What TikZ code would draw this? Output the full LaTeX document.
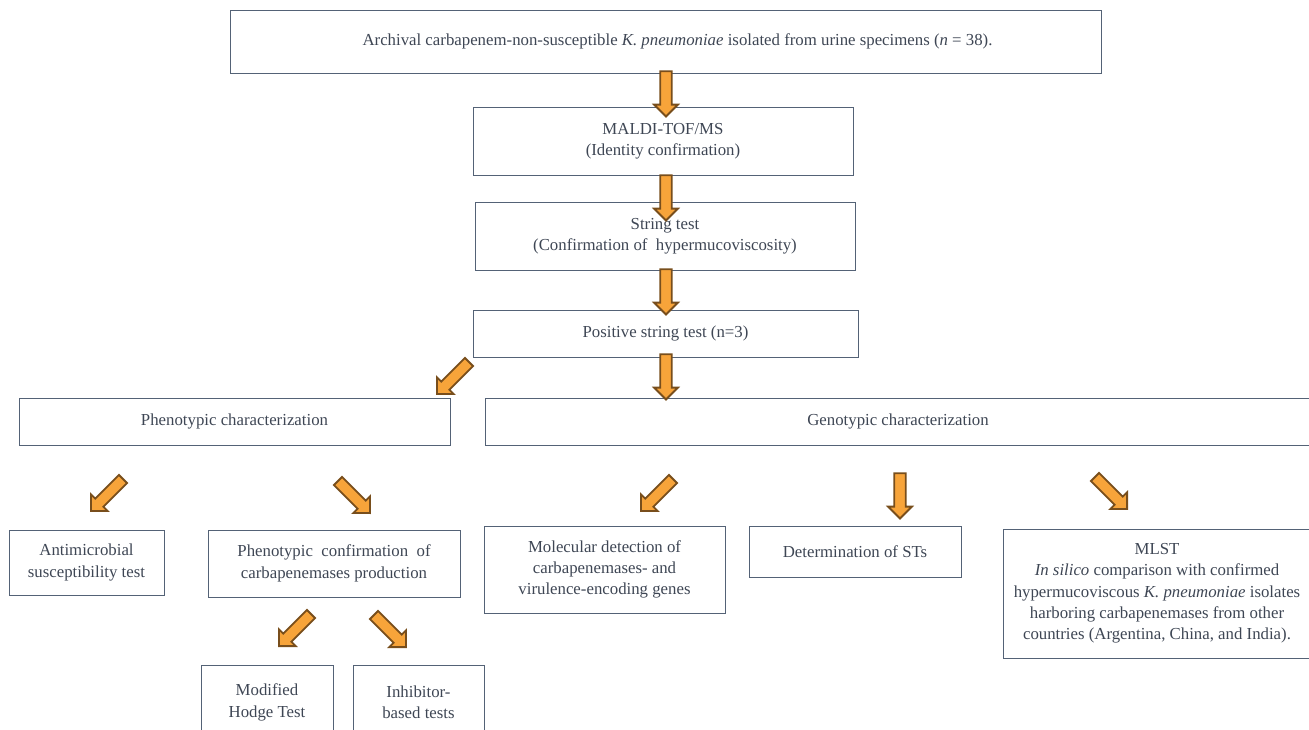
\documentclass[tikz,border=0pt]{standalone}
\usepackage{fontspec}
\setmainfont{Liberation Serif}
\usetikzlibrary{shapes.arrows}
\definecolor{boxline}{RGB}{84,98,118}
\definecolor{txtgray}{RGB}{62,70,84}
\definecolor{arrfill}{RGB}{247,164,58}
\definecolor{arrline}{RGB}{120,78,28}

\begin{document}
\begin{tikzpicture}[x=0.75pt, y=-0.75pt,
  box/.style={draw=boxline, line width=0.75pt, align=center, text=txtgray,
    font=\fontsize{12.6}{16}\selectfont, inner sep=0pt},
  fatarrow/.style={single arrow, draw=arrline, fill=arrfill, line width=1.4pt,
    inner xsep=0pt, inner ysep=3.6pt, minimum height=34pt,
    single arrow head extend=4.6pt}]
  \useasboundingbox (0,0) rectangle (1309,729);
  \clip (0,0) rectangle (1309,729);
  % boxes
  \node[box, minimum width=653.25pt, minimum height=47.25pt] (arch) at (665.5,41.5)
    {\hspace*{18pt}Archival carbapenem-non-susceptible \textit{K. pneumoniae} isolated from urine specimens (\textit{n} = 38).};
  \node[box, minimum width=285pt, minimum height=51pt] (maldi) at (663,141)
    {MALDI-TOF/MS\\(Identity confirmation)};
  \node[box, minimum width=285pt, minimum height=51pt] (string) at (665,236)
    {String test\\(Confirmation of~ hypermucoviscosity)};
  \node[box, minimum width=288.75pt, minimum height=35.25pt] (pos) at (665.5,333.5)
    {Positive string test (n=3)};
  \node[box, minimum width=323.25pt, minimum height=35.25pt] (pheno) at (234.5,421.5)
    {Phenotypic characterization};
  \node[box, minimum width=619.5pt, minimum height=35.25pt] (geno) at (898,421.5)
    {Genotypic characterization};
  \node[box, minimum width=116.25pt, minimum height=48.75pt] (amr) at (86.5,562.5)
    {Antimicrobial\\susceptibility test};
  \node[box, minimum width=189pt, minimum height=50.25pt] (pconf) at (334,563.5)
    {Phenotypic~ confirmation~ of\\carbapenemases production};
  \node[box, minimum width=180.75pt, minimum height=65.25pt] (moldet) at (604.5,569.5)
    {Molecular detection of\\carbapenemases- and\\virulence-encoding genes};
  \node[box, minimum width=159pt, minimum height=38.25pt] (sts) at (855,551.5)
    {Determination of STs};
  \node[box, minimum width=231pt, minimum height=96.75pt] (mlst) at (1157,593.5)
    {MLST\\\textit{In silico} comparison with confirmed\\hypermucoviscous \textit{K. pneumoniae} isolates\\harboring carbapenemases from other\\countries (Argentina, China, and India).};
  \node[box, minimum width=99pt, minimum height=56.25pt] (mht) at (267,702.5)
    {Modified\\Hodge Test};
  \node[box, minimum width=98.25pt, minimum height=56.25pt] (inhib) at (418.5,702.5)
    {Inhibitor-\\based tests};
  % block arrows
  \node[fatarrow, rotate=-90] (ar1) at (666,91) {};
  \node[fatarrow, rotate=-90] (ar2) at (666,195) {};
  \node[fatarrow, rotate=-90] (ar3) at (666,289) {};
  \node[fatarrow, rotate=-90] (ar4) at (666,374) {};
  \node[fatarrow, rotate=-135] (ar5) at (455,376) {};
  \node[fatarrow, rotate=-135] (ar6) at (109,493) {};
  \node[fatarrow, rotate=-45] (ar7) at (352,495) {};
  \node[fatarrow, rotate=-135] (ar8) at (659,493) {};
  \node[fatarrow, rotate=-90] (ar9) at (900,493) {};
  \node[fatarrow, rotate=-45] (ar10) at (1109,491) {};
  \node[fatarrow, rotate=-135] (ar11) at (297,628) {};
  \node[fatarrow, rotate=-45] (ar12) at (388,629) {};
\end{tikzpicture}
\end{document}
